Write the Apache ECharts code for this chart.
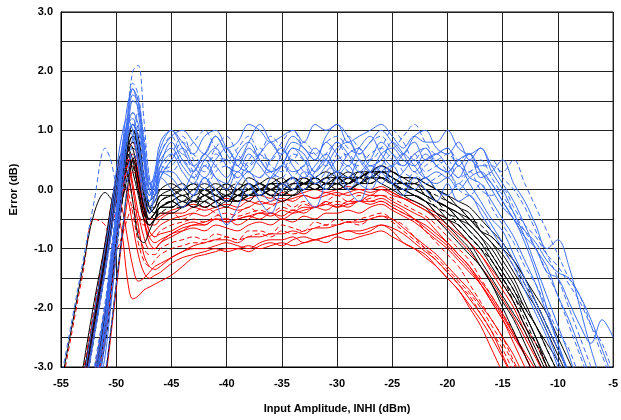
<!DOCTYPE html>
<html>
<head>
<meta charset="utf-8">
<script src="https://cdn.jsdelivr.net/npm/echarts@6/dist/echarts.min.js"></script>
<style>
  html,body{margin:0;padding:0;background:#fff;}
  #main{width:621px;height:420px;}
</style>
</head>
<body>
<div id="main"></div>
<script>
const n = null
// x positions (dBm) shared by all curves
const xValues = [-55,-54,-53,-52,-51,
  -50.5,-50,-49.5,-49,-48.5,-48,-47.5,-47,-46.5,-46,
  -45,-44,-43,-42,-41,-40,-39,-38,-37,-36,-35,-34,-33,-32,-31,-30,-29,-28,-27,-26,-25,-24,-23,-22,-21,
  -20,-19,-18,-17,-16,-15,-14,-13,-12,-11,-10,-9,-8,-7,-6,-5]

const xTicks = [-55,-50,-45,-40,-35,-30,-25,-20,-15,-10,-5]
const yTicks = [-3.0,-2.0,-1.0,0.0,1.0,2.0,3.0]

// blue curves
const blue1 = [n,n,n,-3.8,-2.6, -1.9,-1.0,0.1,1.2,2.0,2.1,1.2,0.2,-0.1,0.3,
  0.6,0.9,0.5,0.3,0.6, 0.4,0.2,0.5,0.7,0.4, 0.3,0.6,0.5,0.3,0.6, 0.8,0.5,0.4,0.6,0.7, 0.5,0.4,0.6,0.3,0.4,
  0.5,0.2,0.3,0.4,0.4, 0.3,0.5,0.1,-0.3,-0.7, -1.1,-1.5,-1.8,-2.3,-2.8,-3.3]
const blue2 = [n,n,n,-3.5,-2.2, -1.3,-0.4,0.6,1.4,1.7,1.3,0.5,-0.1,0.2,0.6,
  0.9,1.0,0.8,0.6,0.9, 0.7,0.8,1.1,1.0,0.8, 0.9,1.0,0.8,1.1,1.0, 1.1,0.8,0.9,1.0,1.1, 0.9,0.7,0.9,0.8,0.8,
  1.0,0.7,0.6,0.7,0.3, 0.0,-0.4,-0.8,-1.3,-1.8, -2.3,-2.8,-3.4,n,n,n]
const blue3 = [n,n,n,-3.9,-2.8, -2.0,-1.1,-0.1,0.8,1.5,1.4,0.6,0.0,-0.2,0.2,
  0.5,0.7,0.4,0.2,0.5, 0.7,0.4,0.3,0.6,0.8, 0.5,0.3,0.4,0.7,0.5, 0.3,0.6,0.7,0.4,0.5, 0.8,0.6,0.3,0.5,0.6,
  0.4,0.2,0.5,0.3,0.0, -0.3,-0.5,-0.9,-1.4,-2.0, -2.6,-3.2,n,n,n,n]
const blue4 = [-3.2,-2.2,-1.2,-0.2,0.7, 0.5,0.1,0.0,0.3,0.6,0.4,0.0,-0.2,0.1,0.4,
  0.3,0.5,0.2,0.0,0.3, 0.4,0.1,-0.1,0.2,0.3, 0.0,0.2,0.4,0.1,0.2, 0.5,0.3,0.1,0.3,0.5, 0.2,0.0,0.3,0.1,0.2,
  0.3,0.0,-0.1,0.1,-0.3, -0.6,-0.9,-1.3,-1.6,-2.0, -2.4,-2.7,-3.2,n,n,n]
const blue5 = [n,n,-3.6,-2.5,-1.4, -0.8,-0.1,0.6,1.0,0.9,0.4,-0.2,-0.4,-0.1,0.2,
  0.0,-0.3,-0.1,0.2,-0.2, -0.6,-0.3,0.1,-0.2,-0.4, 0.0,0.2,-0.1,-0.3,0.1, 0.3,0.0,-0.2,0.2,0.4, 0.1,-0.1,0.2,0.0,-0.2,
  0.1,-0.2,-0.1,-0.4,-0.7, -1.0,-1.3,-1.7,-2.1,-2.5, -3.0,-3.5,n,n,n,n]
const blue6 = [n,n,-3.3,-2.1,-1.0, -0.4,0.3,0.9,1.2,1.0,0.5,0.0,-0.2,0.2,0.7,
  1.0,0.7,0.4,0.6,0.9, 0.6,0.4,0.7,0.5,0.3, 0.6,0.9,0.7,0.5,0.8, 0.6,0.4,0.7,0.9,0.6, 0.4,0.6,0.8,0.5,0.6,
  0.7,0.4,0.6,0.2,0.3, 0.5,0.1,-0.2,-0.6,-1.0, -0.85,-1.3,-2.0,-2.7,-3.3,n]
const blue7 = [n,n,n,-3.2,-2.0, -1.2,-0.5,0.3,0.9,1.1,0.8,0.2,-0.1,0.1,0.4,
  0.6,0.3,0.1,0.4,0.2, 0.1,0.5,0.3,0.2,0.5, 0.7,0.4,0.2,0.4,0.6, 0.3,0.2,0.5,0.3,0.1, 0.4,0.6,0.4,0.2,0.3,
  0.2,0.4,0.1,-0.2,-0.5, -0.7,-1.1,-1.5,-1.9,-2.3, -2.7,-3.1,n,n,n,n]
const blue8 = [n,n,n,-3.7,-2.5, -1.6,-0.7,0.2,1.0,1.6,1.5,0.8,0.1,0.0,0.4,
  0.8,0.5,0.3,0.6,0.4, 0.2,0.6,0.8,0.5,0.3, 0.4,0.7,0.5,0.2,0.4, 0.7,0.8,0.5,0.3,0.6, 0.7,0.5,0.4,0.6,0.4,
  0.3,0.5,0.6,0.3,0.1, -0.2,-0.5,-0.8,-1.0,-1.4, -1.5,-1.9,-2.3,-2.6,-2.2,-2.5]
const blue9 = [n,n,n,-3.4,-2.3, -1.5,-0.6,0.4,1.2,1.7,1.5,0.7,0.0,0.3,0.8,
  1.0,0.8,0.6,0.9,1.0, 0.7,0.5,0.8,1.1,0.8, 0.6,0.8,0.7,0.5,0.9, 1.1,0.9,0.6,0.8,1.0, 0.8,0.6,0.9,1.0,0.7,
  0.6,0.8,0.5,0.7,0.4, 0.1,-0.2,-0.6,-1.0,-1.3, -1.8,-2.2,-2.7,-3.2,n,n]
const blue10 = [n,n,n,-3.0,-1.9, -1.1,-0.3,0.5,1.1,1.3,1.0,0.4,-0.1,0.0,0.3,
  0.4,0.6,0.3,0.1,0.4, 0.5,0.2,0.4,0.6,0.3, 0.2,0.5,0.3,0.1,0.3, 0.5,0.6,0.3,0.2,0.4, 0.6,0.3,0.2,0.4,0.5,
  0.3,0.1,0.3,0.0,-0.1, 0.0,-0.3,-0.6,-0.8,-1.1, -1.3,-1.6,-1.9,-2.3,-2.6,-3.1]
const blue11 = [n,n,n,n,-3.1, -2.4,-1.6,-0.8,0.1,0.9,1.3,0.9,0.2,-0.1,0.2,
  0.5,0.8,0.6,0.4,0.7, 0.9,0.6,0.4,0.6,0.9, 0.7,0.5,0.8,0.6,0.4, 0.6,0.9,0.7,0.5,0.7, 1.0,0.8,0.5,0.7,0.5,
  0.6,0.4,0.3,0.5,0.2, -0.1,-0.4,-0.7,-1.0,-1.4, -1.8,-2.3,-2.8,-3.3,n,n]
const blue12 = [n,n,n,-3.3,-2.2, -1.4,-0.6,0.3,1.0,1.3,1.1,0.5,0.1,0.2,0.5,
  0.7,0.4,0.2,0.5,0.7, 0.4,0.3,0.6,0.4,0.2, 0.4,0.7,0.6,0.3,0.5, 0.8,0.6,0.3,0.5,0.8, 0.6,0.4,0.6,0.7,0.4,
  0.3,0.5,0.2,0.1,-0.2, -0.5,-0.8,-1.2,-1.6,-2.1, -2.6,-3.1,n,n,n,n]
const blue13 = [n,n,-3.5,-2.4,-1.3, -0.6,0.1,0.7,1.1,1.2,0.8,0.2,-0.2,0.0,0.3,
  0.2,0.0,0.3,0.5,0.2, 0.0,0.3,0.1,-0.1,0.2, 0.4,0.2,0.0,0.3,0.5, 0.2,0.0,0.2,0.4,0.3, 0.1,0.3,0.5,0.2,0.1,
  0.2,0.0,0.2,0.3,0.1, -0.2,-0.5,-0.7,-0.9,-1.2, -1.4,-1.5,-1.8,-2.2,-2.7,-3.2]
const blue14 = [n,n,n,-3.6,-2.4, -1.6,-0.8,0.2,1.1,1.8,1.6,0.8,0.1,0.2,0.6,
  0.9,0.6,0.8,1.0,0.7, 0.5,0.7,0.9,0.6,0.5, 0.8,1.0,0.7,0.6,0.8, 0.9,0.7,0.6,0.8,0.9, 0.7,0.9,1.1,0.8,0.6,
  0.7,0.5,0.6,0.4,0.5, 0.2,0.0,-0.3,-0.7,-1.1, -1.5,-2.0,-2.5,-3.0,n,n]
const blue15 = [n,n,n,-3.1,-2.0, -1.2,-0.4,0.4,1.0,1.1,0.7,0.1,-0.3,-0.1,0.3,
  0.3,0.1,-0.1,0.2,0.0, -0.2,0.1,0.3,0.0,-0.2, 0.1,0.0,0.3,0.2,0.0, 0.2,0.4,0.1,0.0,0.3, 0.4,0.1,0.0,0.2,0.0,
  -0.1,0.1,-0.1,-0.3,-0.6, -0.9,-1.2,-1.6,-2.0,-2.4, -2.9,-3.3,n,n,n,n]

// black curves
const black1 = [-3.3,-2.3,-1.3,-0.4,-0.05, -0.15,-0.3,-0.2,0.2,0.5,0.2,-0.3,-0.5,-0.4,-0.3,
  -0.2,-0.1,-0.2,-0.1,-0.2, -0.1,0.0,-0.1,0.0,0.1, 0.0,0.1,0.1,0.2,0.1, 0.1,0.2,0.2,0.3,0.2, 0.1,0.1,0.0,-0.1,-0.2,
  -0.3,-0.5,-0.7,-0.9,-1.2, -1.5,-1.8,-2.1,-2.5,-2.9, -3.3,n,n,n,n,n]
const black2 = [n,n,-3.5,-2.4,-1.3, -0.7,-0.1,0.5,0.9,1.0,0.6,-0.1,-0.5,-0.4,-0.2,
  -0.1,0.0,-0.2,-0.1,0.0, -0.2,-0.1,0.0,0.1,0.0, -0.1,0.1,0.2,0.1,0.0, 0.2,0.1,0.2,0.3,0.3, 0.2,0.1,0.1,0.0,-0.2,
  -0.3,-0.4,-0.6,-0.8,-1.1, -1.4,-1.7,-2.1,-2.5,-3.0, -3.4,n,n,n,n,n]
const black3 = [n,n,n,-3.1,-2.0, -1.3,-0.6,0.1,0.6,0.8,0.5,0.0,-0.4,-0.5,-0.3,
  -0.2,-0.3,-0.1,-0.2,-0.3, -0.1,-0.2,0.0,-0.1,0.1, 0.0,-0.1,0.1,0.0,0.1, 0.0,0.1,0.2,0.2,0.3, 0.1,0.0,0.1,-0.1,-0.3,
  -0.4,-0.6,-0.8,-1.0,-1.2, -1.5,-1.9,-2.3,-2.6,-2.9, -3.3,n,n,n,n,n]
const black4 = [n,n,n,-3.4,-2.3, -1.6,-0.8,0.0,0.7,1.1,0.9,0.2,-0.4,-0.3,-0.1,
  0.0,0.1,-0.1,0.0,0.1, 0.0,-0.1,0.1,0.0,0.1, 0.2,0.0,0.1,0.2,0.1, 0.2,0.1,0.2,0.3,0.4, 0.3,0.2,0.1,0.2,0.0,
  -0.1,-0.3,-0.4,-0.7,-0.9, -1.2,-1.5,-1.9,-2.3,-2.6, -2.9,-3.3,n,n,n,n]
const black5 = [n,n,-3.2,-2.1,-1.0, -0.4,0.1,0.4,0.3,-0.2,-0.8,-0.9,-0.7,-0.5,-0.3,
  -0.3,-0.2,-0.3,-0.2,-0.1, -0.2,-0.1,-0.1,0.0,-0.1, 0.0,0.0,0.1,0.0,0.1, 0.1,0.0,0.1,0.2,0.1, 0.0,-0.1,-0.1,-0.2,-0.4,
  -0.5,-0.7,-0.9,-1.2,-1.5, -1.8,-2.1,-2.4,-2.8,-3.2, n,n,n,n,n,n]
const black6 = [n,n,n,-3.6,-2.6, -1.9,-1.1,-0.3,0.4,0.7,0.6,0.1,-0.3,-0.4,-0.2,
  -0.1,-0.2,0.0,-0.1,-0.2, 0.0,0.1,0.0,-0.1,0.0, 0.1,0.2,0.1,0.0,0.2, 0.1,0.2,0.3,0.2,0.3, 0.2,0.1,0.2,0.0,-0.1,
  -0.2,-0.3,-0.5,-0.6,-0.8, -1.0,-1.3,-1.6,-1.9,-2.3, -2.7,-3.1,n,n,n,n]
const black7 = [n,n,-3.4,-2.3,-1.2, -0.6,0.0,0.5,0.8,0.7,0.2,-0.3,-0.6,-0.5,-0.3,
  -0.3,-0.2,-0.3,-0.1,-0.2, -0.3,-0.1,-0.2,0.0,-0.1, -0.1,0.0,0.0,0.1,0.0, 0.0,0.1,0.2,0.1,0.2, 0.1,0.0,-0.1,-0.2,-0.4,
  -0.6,-0.8,-1.0,-1.3,-1.6, -1.9,-2.2,-2.6,-3.0,-3.4, n,n,n,n,n,n]
const black8 = [n,n,n,-3.2,-2.1, -1.4,-0.7,0.1,0.7,0.9,0.7,0.1,-0.3,-0.2,0.0,
  0.1,0.0,0.1,0.0,-0.1, 0.1,0.0,0.2,0.1,0.0, 0.1,0.2,0.1,0.2,0.3, 0.2,0.1,0.3,0.3,0.4, 0.3,0.2,0.2,0.1,0.0,
  -0.2,-0.3,-0.5,-0.7,-0.8, -1.0,-1.2,-1.5,-1.8,-2.1, -2.5,-2.9,-3.3,n,n,n]
const black9 = [n,n,-3.0,-1.9,-0.9, -0.3,0.2,0.6,0.6,0.3,-0.1,-0.5,-0.6,-0.5,-0.4,
  -0.4,-0.3,-0.2,-0.3,-0.2, -0.1,-0.2,-0.1,0.0,-0.1, -0.2,-0.1,0.0,0.0,0.1, 0.0,0.0,0.1,0.2,0.2, 0.1,-0.1,-0.2,-0.3,-0.5,
  -0.7,-0.9,-1.1,-1.3,-1.6, -2.0,-2.4,-2.8,-3.2,n, n,n,n,n,n,n]
const black10 = [n,n,n,-3.3,-2.2, -1.5,-0.7,0.2,0.8,1.0,0.8,0.1,-0.4,-0.3,-0.1,
  -0.1,0.0,0.1,-0.1,0.0, 0.1,-0.1,0.0,0.1,0.2, 0.1,0.0,0.2,0.1,0.2, 0.3,0.2,0.1,0.2,0.3, 0.2,0.1,0.0,-0.1,-0.2,
  -0.3,-0.5,-0.6,-0.8,-1.0, -1.3,-1.6,-2.0,-2.3,-2.7, -3.1,n,n,n,n,n]
const black11 = [n,n,n,n,-3.2, -2.4,-1.6,-0.8,0.0,0.5,0.6,0.2,-0.3,-0.4,-0.3,
  -0.2,-0.1,-0.2,0.0,-0.1, -0.2,0.0,0.1,-0.1,0.0, 0.1,0.0,0.1,0.2,0.1, 0.2,0.2,0.1,0.3,0.3, 0.2,0.1,0.0,0.0,-0.2,
  -0.3,-0.4,-0.5,-0.7,-0.9, -1.1,-1.4,-1.7,-2.0,-2.4, -2.8,-3.2,n,n,n,n]
const black12 = [n,n,n,-3.5,-2.4, -1.7,-0.9,-0.1,0.5,0.8,0.7,0.2,-0.3,-0.3,-0.2,
  -0.1,-0.2,-0.1,0.0,-0.1, -0.2,-0.1,0.0,0.1,0.0, 0.0,0.1,0.0,0.2,0.1, 0.1,0.2,0.3,0.2,0.3, 0.2,0.1,0.1,-0.1,-0.2,
  -0.4,-0.5,-0.7,-0.9,-1.1, -1.4,-1.7,-2.0,-2.3,-2.7, -3.1,n,n,n,n,n]
const black13 = [n,n,-3.3,-2.2,-1.1, -0.5,0.1,0.5,0.7,0.5,0.0,-0.4,-0.5,-0.4,-0.3,
  -0.2,-0.3,-0.2,-0.2,-0.3, -0.2,-0.2,-0.1,-0.1,0.0, -0.1,-0.1,0.0,0.1,0.0, 0.1,0.0,0.1,0.1,0.2, 0.1,0.0,-0.1,-0.2,-0.3,
  -0.5,-0.6,-0.8,-1.0,-1.3, -1.6,-1.9,-2.3,-2.7,-3.1, n,n,n,n,n,n]
const black14 = [n,n,n,-3.3,-2.2, -1.5,-0.8,0.0,0.6,0.9,0.8,0.2,-0.2,-0.1,0.0,
  0.0,-0.1,0.0,0.1,0.0, -0.1,0.0,0.1,0.0,0.1, 0.1,0.2,0.1,0.1,0.2, 0.2,0.3,0.2,0.3,0.3, 0.3,0.2,0.2,0.1,0.0,
  -0.1,-0.2,-0.3,-0.5,-0.7, -0.9,-1.2,-1.5,-1.9,-2.3, -2.7,-3.1,n,n,n,n]
const black15 = [n,n,-3.6,-2.5,-1.4, -0.8,-0.2,0.3,0.5,0.4,0.0,-0.4,-0.6,-0.5,-0.4,
  -0.3,-0.3,-0.2,-0.3,-0.2, -0.1,-0.2,-0.1,-0.1,0.0, -0.1,0.0,0.1,0.0,0.0, 0.1,0.1,0.2,0.1,0.2, 0.1,0.0,-0.1,-0.2,-0.3,
  -0.4,-0.6,-0.8,-1.0,-1.2, -1.5,-1.8,-2.2,-2.6,-3.0, -3.4,n,n,n,n,n]

// red curves
const red1 = [-3.4,-2.4,-1.4,-0.5,-0.6, -0.9,-1.0,-0.8,-0.5,-0.3,-0.4,-0.6,-0.6,-0.5,-0.4,
  -0.4,-0.5,-0.4,-0.3,-0.4, -0.5,-0.4,-0.3,-0.4,-0.3, -0.2,-0.3,-0.2,-0.3,-0.2, -0.1,-0.2,-0.1,-0.2,-0.2, -0.3,-0.4,-0.5,-0.7,-0.9,
  -1.1,-1.3,-1.6,-1.9,-2.2, -2.5,-2.9,-3.3,n,n, n,n,n,n,n,n]
const red2 = [n,n,-3.5,-2.4,-1.3, -0.7,-0.4,-0.7,-1.5,-1.85,-1.8,-1.7,-1.65,-1.6,-1.55,
  -1.45,-1.3,-1.15,-1.1,-1.05, -1.0,-1.0,-1.05,-0.95,-0.9, -0.95,-0.85,-0.8,-0.85,-0.8, -0.75,-0.7,-0.75,-0.7,-0.6, -0.7,-0.9,-1.0,-1.1,-1.3,
  -1.5,-1.7,-2.0,-2.3,-2.7, -3.1,n,n,n,n, n,n,n,n,n,n]
const red3 = [n,n,n,-3.3,-2.2, -1.5,-0.8,-0.1,0.4,0.5,0.1,-0.5,-0.9,-1.0,-0.9,
  -0.8,-0.7,-0.6,-0.6,-0.5, -0.5,-0.6,-0.5,-0.4,-0.4, -0.5,-0.4,-0.3,-0.3,-0.2, -0.3,-0.2,-0.2,-0.1,-0.1, -0.2,-0.3,-0.4,-0.5,-0.7,
  -0.9,-1.1,-1.3,-1.6,-1.9, -2.2,-2.6,-3.0,-3.4,n, n,n,n,n,n,n]
const red4 = [n,n,-3.1,-2.0,-0.9, -0.3,0.2,0.5,0.3,-0.2,-0.7,-1.0,-1.1,-1.1,-1.0,
  -0.9,-0.85,-0.8,-0.85,-0.75, -0.8,-0.85,-0.7,-0.7,-0.75, -0.6,-0.65,-0.7,-0.55,-0.6, -0.5,-0.55,-0.5,-0.45,-0.4, -0.5,-0.6,-0.8,-1.0,-1.2,
  -1.4,-1.6,-1.8,-2.1,-2.4, -2.7,-3.1,n,n,n, n,n,n,n,n,n]
const red5 = [n,n,n,-3.6,-2.5, -1.8,-1.0,-0.1,0.6,0.8,0.4,-0.3,-0.6,-0.6,-0.5,
  -0.4,-0.4,-0.3,-0.35,-0.3, -0.25,-0.3,-0.2,-0.25,-0.2, -0.15,-0.2,-0.1,-0.15,-0.1, -0.05,-0.1,-0.05,-0.1,0.0, -0.05,-0.15,-0.2,-0.3,-0.4,
  -0.5,-0.7,-0.9,-1.1,-1.4, -1.7,-2.0,-2.4,-2.8,-3.2, n,n,n,n,n,n]
const red6 = [n,n,-3.4,-2.3,-1.2, -0.6,-0.1,0.3,0.4,0.0,-0.6,-1.1,-1.3,-1.35,-1.3,
  -1.15,-1.05,-1.0,-1.0,-0.95, -0.9,-0.95,-1.0,-0.9,-0.85, -0.85,-0.8,-0.9,-0.85,-0.8, -0.75,-0.7,-0.7,-0.65,-0.6, -0.65,-0.75,-0.9,-1.05,-1.2,
  -1.4,-1.6,-1.85,-2.1,-2.4, -2.8,-3.2,n,n,n, n,n,n,n,n,n]
const red7 = [n,n,n,-3.2,-2.1, -1.4,-0.7,0.0,0.5,0.6,0.2,-0.4,-0.7,-0.8,-0.7,
  -0.6,-0.55,-0.5,-0.55,-0.45, -0.4,-0.45,-0.4,-0.35,-0.4, -0.3,-0.35,-0.25,-0.3,-0.25, -0.2,-0.25,-0.2,-0.15,-0.1, -0.15,-0.25,-0.35,-0.45,-0.6,
  -0.8,-1.0,-1.2,-1.5,-1.8, -2.1,-2.4,-2.8,-3.2,n, n,n,n,n,n,n]
const red8 = [n,n,-3.3,-2.2,-1.1, -0.5,0.0,0.4,0.5,0.1,-0.4,-0.8,-1.0,-1.0,-0.9,
  -0.75,-0.7,-0.65,-0.7,-0.6, -0.65,-0.7,-0.6,-0.55,-0.6, -0.5,-0.55,-0.45,-0.5,-0.4, -0.4,-0.35,-0.4,-0.3,-0.25, -0.35,-0.45,-0.55,-0.7,-0.85,
  -1.0,-1.2,-1.4,-1.6,-1.9, -2.2,-2.5,-2.8,-3.2,n, n,n,n,n,n,n]
const red9 = [n,n,n,-3.5,-2.4, -1.7,-0.9,-0.2,0.3,0.4,0.0,-0.5,-0.8,-0.7,-0.6,
  -0.5,-0.45,-0.4,-0.45,-0.35, -0.3,-0.35,-0.3,-0.2,-0.25, -0.2,-0.15,-0.1,-0.15,-0.05, -0.1,-0.05,0.0,-0.05,0.0, -0.1,-0.15,-0.25,-0.35,-0.45,
  -0.6,-0.75,-0.9,-1.1,-1.35, -1.6,-1.9,-2.3,-2.6,-3.0, -3.4,n,n,n,n,n]
const red10 = [n,n,-3.2,-2.1,-1.0, -0.4,0.0,0.2,-0.1,-0.6,-1.1,-1.4,-1.5,-1.45,-1.4,
  -1.25,-1.15,-1.1,-1.05,-1.0, -1.05,-1.0,-0.95,-1.0,-0.95, -0.9,-0.95,-0.9,-0.85,-0.9, -0.8,-0.85,-0.8,-0.75,-0.7, -0.8,-0.9,-1.0,-1.15,-1.3,
  -1.5,-1.7,-1.95,-2.2,-2.5, -2.85,-3.2,n,n,n, n,n,n,n,n,n]
const red11 = [n,n,n,n,-3.3, -2.5,-1.7,-0.9,-0.2,0.3,0.2,-0.3,-0.7,-0.8,-0.75,
  -0.7,-0.6,-0.55,-0.6,-0.5, -0.55,-0.5,-0.45,-0.5,-0.4, -0.45,-0.35,-0.4,-0.3,-0.35, -0.25,-0.3,-0.2,-0.2,-0.15, -0.25,-0.35,-0.5,-0.6,-0.75,
  -0.9,-1.1,-1.3,-1.55,-1.8, -2.1,-2.45,-2.8,-3.2,n, n,n,n,n,n,n]
const red12 = [n,n,-3.4,-2.3,-1.2, -0.6,-0.2,0.1,0.0,-0.4,-0.9,-1.2,-1.3,-1.2,-1.1,
  -1.0,-0.95,-0.9,-0.9,-0.85, -0.8,-0.85,-0.8,-0.75,-0.8, -0.7,-0.75,-0.7,-0.65,-0.6, -0.6,-0.55,-0.6,-0.5,-0.45, -0.55,-0.7,-0.85,-1.0,-1.15,
  -1.35,-1.55,-1.75,-2.0,-2.3, -2.6,-2.95,-3.3,n,n, n,n,n,n,n,n]
const red13 = [n,n,n,-3.4,-2.3, -1.6,-0.8,-0.1,0.4,0.6,0.3,-0.2,-0.5,-0.5,-0.45,
  -0.35,-0.3,-0.25,-0.3,-0.2, -0.15,-0.2,-0.15,-0.1,-0.15, -0.05,-0.1,-0.05,0.0,-0.05, 0.0,0.05,0.0,0.0,0.05, -0.05,-0.15,-0.25,-0.35,-0.5,
  -0.65,-0.85,-1.05,-1.3,-1.55, -1.85,-2.15,-2.5,-2.85,-3.2, n,n,n,n,n,n]
const red14 = [n,n,-3.3,-2.2,-1.1, -0.5,-0.2,-0.3,-0.8,-1.3,-1.55,-1.5,-1.4,-1.3,-1.25,
  -1.15,-1.05,-0.95,-0.9,-0.85, -0.85,-0.9,-0.8,-0.8,-0.75, -0.75,-0.7,-0.75,-0.65,-0.65, -0.6,-0.55,-0.55,-0.5,-0.45, -0.5,-0.65,-0.8,-0.95,-1.1,
  -1.3,-1.5,-1.7,-1.95,-2.2, -2.5,-2.8,-3.2,n,n, n,n,n,n,n,n]
const red15 = [n,n,n,-3.1,-2.0, -1.3,-0.6,0.1,0.5,0.5,0.1,-0.5,-0.8,-0.9,-0.85,
  -0.75,-0.65,-0.6,-0.55,-0.5, -0.55,-0.5,-0.45,-0.4,-0.45, -0.35,-0.4,-0.35,-0.3,-0.25, -0.3,-0.25,-0.2,-0.25,-0.2, -0.3,-0.4,-0.5,-0.65,-0.8,
  -0.95,-1.15,-1.35,-1.6,-1.85, -2.15,-2.45,-2.75,-3.05,-3.4, n,n,n,n,n,n]

const redCurves = [red1,red2,red3,red4,red5,red6,red7,red8,red9,red10,red11,red12,red13,red14,red15]
const redDashed = [true,false,false,true,false,false,true,false,false,false,false,true,false,false,false]
const blackCurves = [black1,black2,black3,black4,black5,black6,black7,black8,black9,black10,black11,black12,black13,black14,black15]
const blackDashed = [false,false,true,false,false,true,false,false,false,false,false,true,false,false,true]
const blueCurves = [blue1,blue2,blue3,blue4,blue5,blue6,blue7,blue8,blue9,blue10,blue11,blue12,blue13,blue14,blue15]
const blueDashed = [true,false,false,true,false,false,false,false,false,true,true,false,false,true,false]

const axisFont = { fontFamily: 'Liberation Sans, Arial, sans-serif', fontWeight: 'bold', fontSize: 11, color: '#000' }

function makeSeries(curves, dashed, color){
  return curves.map((ys, k) => ({
    type: 'line',
    data: xValues.map((x, i) => [x, ys[i]]),
    showSymbol: false,
    smooth: 0.35,
    clip: true,
    connectNulls: false,
    silent: true,
    lineStyle: { color: color, width: 1, type: dashed[k] ? [5, 3] : 'solid' }
  }))
}

let myChart = echarts.init(document.getElementById('main'))
myChart.setOption({
  animation: false,
  backgroundColor: '#fff',
  grid: { left: 61, right: 5, top: 12, bottom: 53, show: true, borderColor: '#000', borderWidth: 1 },
  xAxis: {
    type: 'value',
    min: -55, max: -5, interval: 5,
    name: 'Input Amplitude, INHI (dBm)',
    nameLocation: 'middle',
    nameGap: 36,
    nameTextStyle: axisFont,
    axisLine: { show: true, onZero: false, lineStyle: { color: '#000', width: 1 } },
    axisTick: { show: false },
    axisLabel: Object.assign({ margin: 11, formatter: v => xTicks.includes(v) ? String(v) : '' }, axisFont),
    splitLine: { show: true, lineStyle: { color: '#222', width: 1 } }
  },
  yAxis: {
    type: 'value',
    min: -3, max: 3, interval: 0.5,
    name: 'Error (dB)',
    nameLocation: 'middle',
    nameGap: 42,
    nameTextStyle: axisFont,
    axisLine: { show: true, lineStyle: { color: '#000', width: 1 } },
    axisTick: { show: false },
    axisLabel: Object.assign({ margin: 8, formatter: v => yTicks.includes(v) ? v.toFixed(1) : '' }, axisFont),
    splitLine: { show: true, lineStyle: { color: '#222', width: 1 } }
  },
  series: [].concat(
    makeSeries(redCurves, redDashed, '#ff0000'),
    makeSeries(blackCurves, blackDashed, '#000000'),
    makeSeries(blueCurves, blueDashed, '#3d6ef5')
  )
})
</script>
</body>
</html>
